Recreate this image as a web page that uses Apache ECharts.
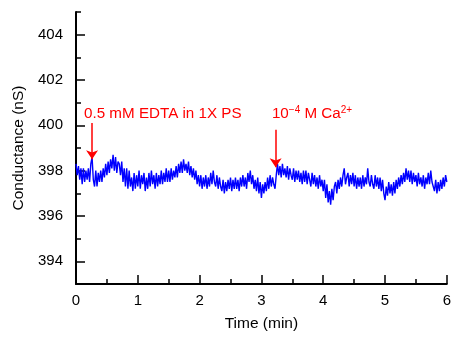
<!DOCTYPE html>
<html>
<head>
<meta charset="utf-8">
<script src="https://cdn.jsdelivr.net/npm/echarts@6/dist/echarts.min.js"></script>
<style>html,body{margin:0;padding:0;background:#fff}#c{width:454px;height:337px}</style>
</head>
<body>
<div id="c"></div>
<script>
// Conductance trace, sampled every 0.02 min from 0 to 6 min (nS)
const conductance = [
398.3,397.8,398.2,397.6,398.1, 397.4,398.1,397.5,398.0,397.6,
398.1,397.5,398.3,398.6,397.6, 397.3,398.0,397.3,397.9,397.5,
398.0,397.5,398.1,397.7,398.3, 397.8,398.4,397.9,398.5,398.1,
398.7,398.0,398.6,397.9,398.4, 398.3,397.8,398.4,397.5,398.1,
397.3,398.1,397.2,398.0,397.3, 397.7,397.1,397.9,397.2,397.8,
397.3,398.0,397.2,397.8,397.4, 397.9,397.1,397.7,397.2,397.9,
397.3,398.0,397.4,397.8,397.2, 397.9,397.3,397.8,397.4,398.0,
397.4,397.9,397.5,398.1,397.5, 398.0,397.5,398.1,397.6,398.0,
397.7,398.2,397.7,398.3,397.9, 398.4,397.9,398.5,398.0,398.3,
397.9,398.4,397.8,398.2,397.7, 398.1,397.6,398.0,397.4,397.8,
397.3,397.8,397.2,397.7,397.3, 397.8,397.2,397.7,397.3,397.9,
397.4,398.0,397.5,397.3,397.8, 397.2,397.7,397.3,397.1,397.6,
397.0,397.5,397.1,397.6,397.2, 397.7,397.1,397.6,397.2,397.7,
397.2,397.6,397.1,397.7,397.3, 397.8,397.3,397.7,397.2,397.9,
397.5,398.0,397.4,397.8,397.2, 397.6,397.1,397.7,397.0,397.5,
396.8,397.4,397.0,397.5,397.1, 397.7,397.2,397.8,397.3,397.7,
397.4,397.2,397.8,398.3,397.8, 398.2,397.7,398.3,397.8,398.1,
397.7,398.2,397.6,398.1,397.8, 397.6,398.1,397.5,398.0,397.6,
398.0,397.5,397.9,397.4,398.0, 397.5,398.0,397.4,397.9,397.6,
397.3,397.9,397.4,397.8,397.3, 397.7,397.2,397.8,397.3,397.6,
397.1,397.6,396.8,397.4,396.6, 397.1,396.5,397.2,396.7,397.3,
397.5,397.0,397.6,397.2,397.7, 397.3,397.8,398.1,397.4,397.7,
397.9,397.3,397.8,397.4,397.9, 397.3,397.8,397.2,397.7,397.3,
397.7,397.2,397.8,397.3,397.7, 397.4,398.1,397.5,397.3,397.8,
397.4,397.2,397.8,397.3,397.7, 397.2,397.7,397.1,397.6,397.0,
396.7,397.3,396.9,397.5,397.0, 397.4,396.9,397.5,397.0,397.6,
397.2,397.7,397.3,397.8,397.4, 397.9,397.5,398.1,397.6,398.0,
397.5,398.0,397.4,397.9,397.5, 397.8,397.3,397.9,397.4,397.7,
397.3,397.8,397.2,397.7,397.4, 397.9,397.4,398.0,397.5,397.3,
397.1,397.6,397.0,397.5,397.1, 397.6,397.2,397.7,397.3,397.8,
397.5
];
const sampleStep = 0.02; // min between samples
const yMajorTicks = [394, 396, 398, 400, 402, 404];
const annotations = [
  {text: '0.5 mM EDTA in 1X PS', x: 0.13, y: 400.5},
  {text: '10{s|−4} M Ca{s|2+}', x: 3.17, y: 400.5}
];
const arrows = [
  {x: 0.26, from: 400.1, to: 398.5},
  {x: 3.23, from: 399.8, to: 398.15}
];

const seriesData = conductance.map((v, i) => [+(i * sampleStep).toFixed(2), v]);
const FONT = 'Liberation Sans, Arial, Helvetica, sans-serif';
const axisLine = {show: true, onZero: false, lineStyle: {color: '#000', width: 2}};

const chart = echarts.init(document.getElementById('c'), null, {renderer: 'canvas'});
chart.setOption({
  animation: false,
  backgroundColor: '#fff',
  grid: {left: 76, right: 5, top: 12, bottom: 50, containLabel: false},
  xAxis: [
    {type: 'value', min: 0, max: 6, interval: 0.5, position: 'bottom',
     axisLine: axisLine,
     axisTick: {show: true, inside: true, length: 5, lineStyle: {color: '#000', width: 1.5}},
     axisLabel: {show: false}, splitLine: {show: false}},
    {type: 'value', min: 0, max: 6, interval: 1, position: 'bottom', offset: 0,
     axisLine: {show: false},
     axisTick: {show: true, inside: true, length: 9, lineStyle: {color: '#000', width: 1.5}},
     axisLabel: {show: true, color: '#000', fontSize: 15, fontFamily: FONT, margin: 9},
     splitLine: {show: false},
     name: 'Time (min)', nameLocation: 'middle', nameGap: 32,
     nameTextStyle: {color: '#000', fontSize: 15.5, fontFamily: FONT}}
  ],
  yAxis: [
    {type: 'value', min: 393, max: 405, interval: 1, position: 'left',
     axisLine: axisLine,
     axisTick: {show: true, inside: true, length: 5, lineStyle: {color: '#000', width: 1.5}},
     axisLabel: {show: false}, splitLine: {show: false}},
    {type: 'value', min: 393, max: 405, interval: 1, position: 'left', offset: 0,
     axisLine: {show: false},
     axisTick: {show: true, inside: true, length: 9, customValues: yMajorTicks, lineStyle: {color: '#000', width: 1.5}},
     axisLabel: {show: true, customValues: yMajorTicks, color: '#000', fontSize: 15, fontFamily: FONT, margin: 13},
     splitLine: {show: false},
     name: 'Conductance (nS)', nameLocation: 'middle', nameGap: 48,
     nameTextStyle: {color: '#000', fontSize: 15.5, fontFamily: FONT}}
  ],
  series: [{
    type: 'line', xAxisIndex: 0, yAxisIndex: 0,
    data: seriesData, showSymbol: false, symbol: 'none',
    lineStyle: {color: '#0000ff', width: 1.4},
    markLine: {
      silent: true, symbol: ['none', 'arrow'], symbolSize: 9,
      label: {show: false},
      lineStyle: {color: '#ff0000', width: 1.5, type: 'solid'},
      data: arrows.map(a => [{coord: [a.x, a.from]}, {coord: [a.x, a.to]}])
    },
    markPoint: {
      silent: true, symbol: 'rect', symbolSize: 0,
      itemStyle: {color: 'transparent'},
      label: {show: true, position: [0, 0], align: 'left', verticalAlign: 'middle',
        color: '#ff0000', fontSize: 15.2, fontFamily: FONT,
        rich: {s: {fontSize: 10, color: '#ff0000', fontFamily: FONT, padding: [0, 0, 8, 0]}}},
      data: annotations.map(a => ({coord: [a.x, a.y], value: a.text, label: {formatter: a.text}}))
    }
  }]
});
</script>
</body>
</html>
